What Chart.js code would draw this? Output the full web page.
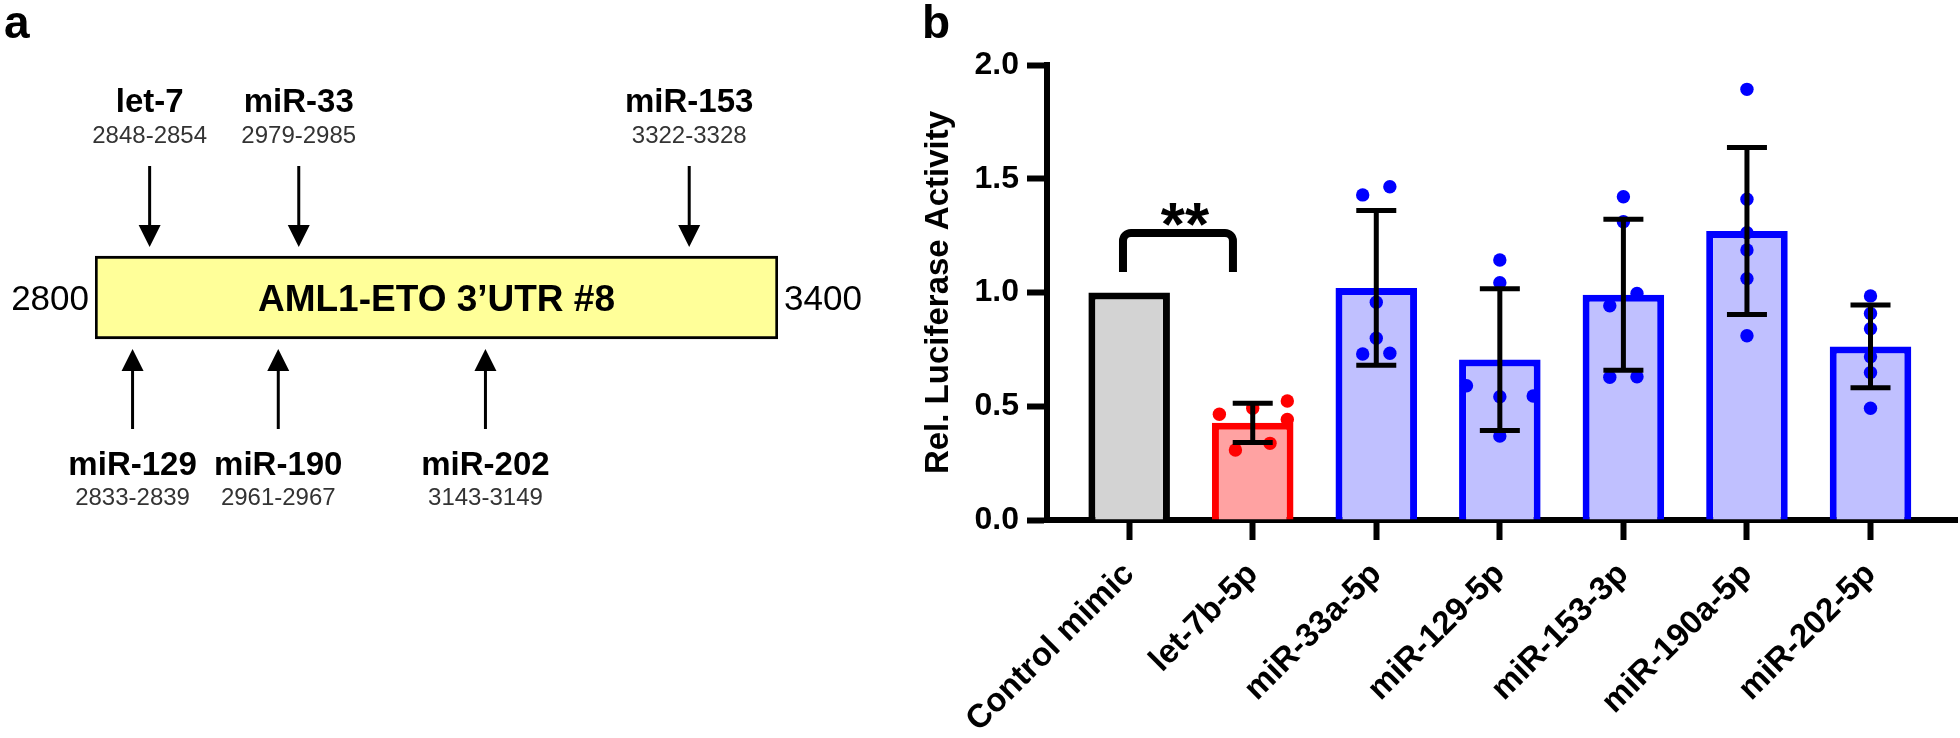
<!DOCTYPE html>
<html>
<head>
<meta charset="utf-8">
<script src="https://cdn.jsdelivr.net/npm/chart.js@4.4.1/dist/chart.umd.min.js"></script>
<style>
  html, body { margin: 0; padding: 0; background: #fff; }
  body { width: 1960px; height: 738px; position: relative; overflow: hidden; font-family: "Liberation Sans", Arial, sans-serif; }
  .panel { position: absolute; top: 0; height: 738px; }
  #panelA { left: 0; width: 900px; }
  #panelB { left: 900px; width: 1060px; }
  .tag { position: absolute; top: -1px; font-size: 46px; font-weight: bold; line-height: 1; }
</style>
</head>
<body>
<div class="panel" id="panelA"><canvas id="mapChart"></canvas></div>
<div class="panel" id="panelB"><canvas id="lucChart"></canvas></div>
<div class="tag" style="left:4px">a</div>
<div class="tag" style="left:922px">b</div>
<script>
// Panel a: binding sites on the 3'UTR fragment
const utrRange = [2800, 3400];
const utrLabel = "AML1-ETO 3’UTR #8";
const siteNames = ["let-7", "miR-33", "miR-153", "miR-129", "miR-190", "miR-202"];
const siteStart = [2848, 2979, 3322, 2833, 2961, 3143];
const siteEnd = [2854, 2985, 3328, 2839, 2967, 3149];
const siteSide = ["top", "top", "top", "bottom", "bottom", "bottom"];

// Panel b: luciferase reporter
const categories = ["Control mimic", "let-7b-5p", "miR-33a-5p", "miR-129-5p", "miR-153-3p", "miR-190a-5p", "miR-202-5p"];
const means = [1.0, 0.427, 1.02, 0.705, 0.99, 1.27, 0.763];
const sds = [0, 0.086, 0.34, 0.312, 0.332, 0.367, 0.182];
const replicates = [
  [],
  [0.465, 0.491, 0.523, 0.442, 0.308, 0.337],
  [1.429, 1.465, 0.957, 0.799, 0.730, 0.733],
  [1.143, 1.043, 0.590, 0.542, 0.545, 0.369],
  [1.421, 1.311, 0.942, 0.996, 0.627, 0.630],
  [1.893, 1.410, 1.263, 1.187, 1.061, 0.810],
  [0.985, 0.908, 0.841, 0.718, 0.648, 0.491]
];
const jitter = [
  [],
  [-0.27, 0, 0.28, 0.28, -0.14, 0.14],
  [-0.11, 0.11, 0, 0, -0.11, 0.11],
  [0, 0, -0.27, 0, 0.27, 0],
  [0, 0, -0.11, 0.11, -0.11, 0.11],
  [0, 0, 0, 0, 0, 0],
  [0, 0, 0, 0, 0, 0]
];
const yTicks = [0, 0.5, 1.0, 1.5, 2.0];
const sigPair = [-0.05, 0.84];
const sigLevels = [1.09, 1.262];
const sigText = "**";

const FONT = '"Liberation Sans", Arial, sans-serif';
Chart.defaults.font.family = FONT;
Chart.defaults.color = "#000";

const edgeColors = ["#000000", "#ff0000", "#0000ff", "#0000ff", "#0000ff", "#0000ff", "#0000ff"];
const fillColors = ["#d3d3d3", "#ffa2a2", "#c0c0ff", "#c0c0ff", "#c0c0ff", "#c0c0ff", "#c0c0ff"];

// arrows + labels around the UTR box
const siteMapPlugin = {
  id: "siteMap",
  afterDatasetsDraw(chart) {
    const ctx = chart.ctx;
    const x = chart.scales.x;
    const box = chart.getDatasetMeta(0).data[0];
    const top = box.y - box.height / 2;
    const bottom = box.y + box.height / 2;
    const left = x.getPixelForValue(utrRange[0]);
    const right = x.getPixelForValue(utrRange[1]);

    ctx.save();
    ctx.fillStyle = "#000";
    ctx.textBaseline = "alphabetic";

    ctx.font = "bold 37px " + FONT;
    ctx.textAlign = "center";
    ctx.fillText(utrLabel, (left + right) / 2, box.y + 13);

    ctx.font = "35px " + FONT;
    ctx.textAlign = "right";
    ctx.fillText(String(utrRange[0]), left - 6, box.y + 12);
    ctx.textAlign = "left";
    ctx.fillText(String(utrRange[1]), right + 6, box.y + 12);

    siteStart.forEach((s, i) => {
      const px = x.getPixelForValue(s);
      const down = siteSide[i] === "top";
      const dir = down ? 1 : -1;
      const tip = down ? top - 9 : bottom + 10;
      const tail = down ? top - 90 : bottom + 90;

      ctx.strokeStyle = "#000";
      ctx.lineWidth = 3;
      ctx.beginPath();
      ctx.moveTo(px, tail);
      ctx.lineTo(px, tip - dir * 18);
      ctx.stroke();
      ctx.beginPath();
      ctx.moveTo(px, tip);
      ctx.lineTo(px - 11, tip - dir * 22);
      ctx.lineTo(px + 11, tip - dir * 22);
      ctx.closePath();
      ctx.fill();

      ctx.textAlign = "center";
      ctx.fillStyle = "#000";
      ctx.font = "bold 33px " + FONT;
      ctx.fillText(siteNames[i], px, down ? top - 144 : bottom + 136);
      ctx.fillStyle = "#333";
      ctx.font = "24px " + FONT;
      ctx.fillText(siteStart[i] + "-" + siteEnd[i], px, down ? top - 113 : bottom + 166);
      ctx.fillStyle = "#000";
    });
    ctx.restore();
  }
};

new Chart(document.getElementById("mapChart"), {
  type: "bar",
  data: {
    labels: [utrLabel],
    datasets: [{
      data: [utrRange],
      backgroundColor: "#ffff99",
      borderColor: "#000",
      borderWidth: 3,
      borderSkipped: false,
      barThickness: 83
    }]
  },
  options: {
    indexAxis: "y",
    responsive: true,
    maintainAspectRatio: false,
    animation: false,
    layout: { padding: { left: 95, right: 122, top: 0, bottom: 143 }, autoPadding: false },
    plugins: { legend: { display: false }, tooltip: { enabled: false } },
    scales: {
      x: { type: "linear", min: utrRange[0], max: utrRange[1], display: false },
      y: { display: false }
    }
  },
  plugins: [siteMapPlugin]
});

// error bars and significance bracket
const errorBarPlugin = {
  id: "errorBars",
  afterDatasetsDraw(chart) {
    const { ctx } = chart;
    const x = chart.scales.x;
    const y = chart.scales.y;
    ctx.save();
    ctx.strokeStyle = "#000";
    ctx.lineWidth = 5;
    means.forEach((m, i) => {
      if (!sds[i]) return;
      const px = x.getPixelForValue(i);
      const hi = y.getPixelForValue(m + sds[i]);
      const lo = y.getPixelForValue(m - sds[i]);
      ctx.beginPath();
      ctx.moveTo(px, hi); ctx.lineTo(px, lo);
      ctx.moveTo(px - 20, hi); ctx.lineTo(px + 20, hi);
      ctx.moveTo(px - 20, lo); ctx.lineTo(px + 20, lo);
      ctx.stroke();
    });

    const bx0 = x.getPixelForValue(sigPair[0]);
    const bx1 = x.getPixelForValue(sigPair[1]);
    const yb = y.getPixelForValue(sigLevels[0]);
    const yt = y.getPixelForValue(sigLevels[1]);
    ctx.lineWidth = 8;
    ctx.lineJoin = "round";
    ctx.beginPath();
    ctx.moveTo(bx0, yb);
    ctx.arcTo(bx0, yt, bx1, yt, 8);
    ctx.arcTo(bx1, yt, bx1, yb, 8);
    ctx.lineTo(bx1, yb);
    ctx.stroke();

    ctx.fillStyle = "#000";
    ctx.font = "bold 62px " + FONT;
    ctx.textAlign = "center";
    ctx.textBaseline = "alphabetic";
    ctx.fillText(sigText, (bx0 + bx1) / 2 + 7, yt + 12);
    ctx.restore();
  }
};

const dotData = [];
const dotColors = [];
replicates.forEach((vals, i) => {
  vals.forEach((v, j) => {
    dotData.push({ x: i + jitter[i][j], y: v });
    dotColors.push(edgeColors[i]);
  });
});

new Chart(document.getElementById("lucChart"), {
  type: "bar",
  data: {
    datasets: [
      {
        type: "scatter",
        data: dotData,
        pointRadius: 6.7,
        pointBackgroundColor: dotColors,
        pointBorderWidth: 0,
        order: 0
      },
      {
        type: "bar",
        data: means.map((m, i) => ({ x: i, y: m })),
        backgroundColor: fillColors,
        borderColor: edgeColors,
        borderWidth: 7,
        barPercentage: 0.66,
        categoryPercentage: 1,
        order: 1
      }
    ]
  },
  options: {
    responsive: true,
    maintainAspectRatio: false,
    animation: false,
    layout: { padding: { top: 65, right: 3, left: 0, bottom: 0 }, autoPadding: false },
    plugins: { legend: { display: false }, tooltip: { enabled: false } },
    scales: {
      x: {
        type: "linear",
        min: -0.665,
        max: 6.7,
        offset: false,
        afterBuildTicks: s => { s.ticks = categories.map((c, i) => ({ value: i })); },
        afterFit: s => { s.height = 218; },
        border: { color: "#000", width: 6 },
        grid: { offset: false, drawOnChartArea: false, tickLength: 20, tickWidth: 6, tickColor: "#000" },
        ticks: {
          autoSkip: false,
          minRotation: 45,
          maxRotation: 45,
          padding: 15,
          color: "#000",
          font: { size: 33, weight: "bold" },
          callback: v => categories[v]
        }
      },
      y: {
        min: 0,
        max: 2,
        afterBuildTicks: s => { s.ticks = yTicks.map(v => ({ value: v })); },
        afterFit: s => { s.width = 147; },
        border: { color: "#000", width: 6 },
        grid: { drawOnChartArea: false, tickLength: 20, tickWidth: 6, tickColor: "#000" },
        ticks: {
          padding: 8,
          color: "#000",
          font: { size: 32, weight: "bold" },
          callback: v => v.toFixed(1)
        },
        title: {
          display: true,
          text: "Rel. Luciferase Activity",
          color: "#000",
          font: { size: 33, weight: "bold" },
          padding: { top: 19, bottom: 0 }
        }
      }
    }
  },
  plugins: [errorBarPlugin]
});
</script>
</body>
</html>
